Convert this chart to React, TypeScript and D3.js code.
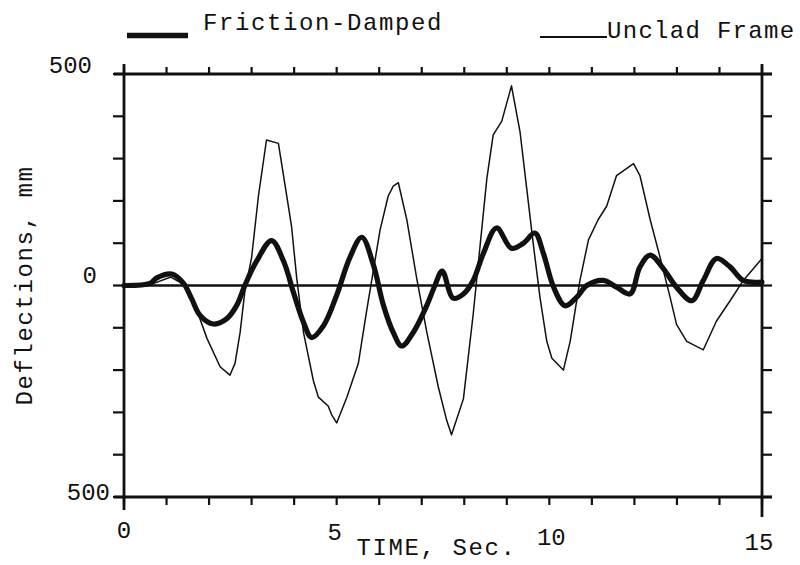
import React from "react";
import * as d3 from "d3";

// ---- data ----
const uncladTime = [0, 0.7, 1.1, 1.45, 1.72, 1.95, 2.26, 2.49, 2.61, 2.73, 2.84, 3.0, 3.16, 3.35, 3.63, 3.79, 3.94, 4.06, 4.22, 4.45, 4.57, 4.8, 4.88, 5.0, 5.24, 5.51, 5.7, 5.86, 6.02, 6.21, 6.33, 6.45, 6.65, 6.88, 7.12, 7.39, 7.59, 7.7, 7.98, 8.21, 8.37, 8.53, 8.68, 8.88, 9.11, 9.31, 9.47, 9.62, 9.78, 9.94, 10.06, 10.33, 10.49, 10.72, 10.92, 11.15, 11.35, 11.58, 11.98, 12.13, 12.37, 12.6, 12.84, 12.99, 13.23, 13.62, 13.93, 14.25, 14.56, 15.0];
const uncladDefl = [0, 5, 20, 0, -60, -125, -192, -212, -184, -111, -15, 66, 211, 344, 336, 235, 139, 18, -111, -224, -264, -285, -305, -325, -264, -184, -63, 34, 131, 211, 235, 243, 155, 18, -111, -240, -320, -353, -268, -68, 92, 252, 356, 388, 472, 364, 228, 100, -28, -132, -172, -200, -132, 12, 108, 156, 188, 260, 288, 260, 156, 68, -28, -92, -132, -152, -84, -36, 12, 64];

const frictionTime = [0, 0.61, 0.77, 1.12, 1.4, 1.59, 1.79, 2.1, 2.41, 2.65, 2.84, 3.12, 3.47, 3.75, 3.98, 4.22, 4.41, 4.69, 5.0, 5.31, 5.59, 5.86, 6.1, 6.33, 6.53, 6.8, 7.12, 7.31, 7.48, 7.74, 7.98, 8.21, 8.45, 8.76, 9.11, 9.39, 9.66, 9.86, 10.1, 10.37, 10.64, 10.88, 11.27, 11.58, 11.9, 12.13, 12.37, 12.68, 12.99, 13.35, 13.62, 13.93, 14.25, 14.56, 15.0];
const frictionDefl = [0, 5, 18, 27, 5, -31, -71, -91, -79, -47, 0, 58, 106, 58, -15, -87, -123, -95, -23, 66, 114, 50, -47, -111, -143, -111, -47, 0, 34, -30, -20, 12, 76, 136, 88, 100, 124, 76, -4, -48, -28, 0, 12, -4, -20, 44, 72, 40, -4, -36, 12, 64, 44, 12, 8];

const xTickValues = d3.range(0, 16, 1);
const yTickValues = d3.range(-500, 501, 100);
const xLabelValues = [0, 5, 10, 15];
const xLabelText = ["0", "5", "10", "15"];
const yLabelValues = [500, 0, -500];
const yLabelText = ["500", "0", "500"];

const seriesNames = ["Friction-Damped", "Unclad Frame"];
const xTitle = "TIME, Sec.";
const yTitle = "Deflections, mm";

// ---- layout ----
const W = 800;
const H = 565;
const left = 124;
const right = 762;
const top = 74;
const bottom = 497;
const FONT = "'Liberation Mono', 'DejaVu Sans Mono', monospace";
const INK = "#111";
// photocopy offsets of the tick labels
const xLabelDy = [41, 43, 48, 53];
const xLabelDx = [0, -2, 2, -3];
const yLabelDx = [-32, -27, -14];
const yLabelDy = [-1, -2.5, 3];

export default function App() {
  const x = d3.scaleLinear().domain([0, 15]).range([left, right]);
  const y = d3.scaleLinear().domain([-500, 500]).range([bottom, top]);

  const unclad = uncladTime.map((t, i) => [t, uncladDefl[i]] as [number, number]);
  const friction = frictionTime.map((t, i) => [t, frictionDefl[i]] as [number, number]);

  const thinLine = d3
    .line<[number, number]>()
    .x((d) => x(d[0]))
    .y((d) => y(d[1]))
    .curve(d3.curveLinear);
  const thickLine = d3
    .line<[number, number]>()
    .x((d) => x(d[0]))
    .y((d) => y(d[1]))
    .curve(d3.curveCatmullRom.alpha(0.5));

  const ext = 10;

  return (
    <svg
      width={W}
      height={H}
      viewBox={`0 0 ${W} ${H}`}
      style={{ position: "absolute", left: 0, top: 0, background: "#fff" }}
    >
      <rect x={0} y={0} width={W} height={H} fill="#fff" />

      {/* frame lines, extended past corners */}
      <g stroke={INK} strokeWidth={2.8} strokeLinecap="butt">
        <line x1={left - ext} x2={right + ext} y1={y(500)} y2={y(500)} />
        <line x1={left - ext} x2={right + ext} y1={y(-500)} y2={y(-500)} />
        <line x1={x(0)} x2={x(0)} y1={top - ext} y2={bottom + 13} />
        <line x1={x(15)} x2={x(15)} y1={top - ext} y2={bottom + 20} />
      </g>

      {/* ticks */}
      <g stroke={INK} strokeWidth={2.2}>
        {xTickValues.map((t) => (
          <g key={"xt" + t}>
            <line x1={x(t)} x2={x(t)} y1={bottom} y2={bottom + 8} />
            <line x1={x(t)} x2={x(t)} y1={top} y2={top - 7} />
          </g>
        ))}
        {yTickValues.map((v) => (
          <g key={"yt" + v}>
            <line x1={left} x2={left - 11} y1={y(v)} y2={y(v)} />
            <line x1={right} x2={right + 10} y1={y(v)} y2={y(v)} />
          </g>
        ))}
      </g>

      {/* zero line */}
      <line x1={x(0)} x2={x(15)} y1={y(0)} y2={y(0)} stroke={INK} strokeWidth={2.6} />

      {/* series */}
      <path d={thinLine(unclad) || ""} fill="none" stroke={INK} strokeWidth={1.5} strokeLinejoin="round" />
      <path d={thickLine(friction) || ""} fill="none" stroke={INK} strokeWidth={5.2} strokeLinejoin="round" strokeLinecap="round" />

      {/* tick labels */}
      <g fontFamily={FONT} fontSize={24} fill={INK}>
        {xLabelValues.map((t, i) => (
          <text key={"xl" + t} x={x(t) + xLabelDx[i]} y={bottom + xLabelDy[i]} textAnchor="middle">
            {xLabelText[i]}
          </text>
        ))}
        {yLabelValues.map((v, i) => (
          <text key={"yl" + i} x={left + yLabelDx[i]} y={y(v) + yLabelDy[i]} textAnchor="end">
            {yLabelText[i]}
          </text>
        ))}
      </g>

      {/* axis titles */}
      <text x={x(7.35)} y={555} textAnchor="middle" fontFamily={FONT} fontSize={24} letterSpacing={1.6} fill={INK}>
        {xTitle}
      </text>
      <text
        transform={`translate(32, ${y(0)}) rotate(-90)`}
        textAnchor="middle"
        fontFamily={FONT}
        fontSize={24}
        letterSpacing={1.6}
        fill={INK}
      >
        {yTitle}
      </text>

      {/* legend */}
      <line x1={127} x2={188} y1={35.5} y2={35.5} stroke={INK} strokeWidth={5.5} />
      <text x={203} y={30} fontFamily={FONT} fontSize={24} letterSpacing={1.6} fill={INK}>
        {seriesNames[0]}
      </text>
      <line x1={540} x2={607} y1={37} y2={37} stroke={INK} strokeWidth={1.8} />
      <text x={607} y={38} fontFamily={FONT} fontSize={24} letterSpacing={1.3} fill={INK}>
        {seriesNames[1]}
      </text>
    </svg>
  );
}
